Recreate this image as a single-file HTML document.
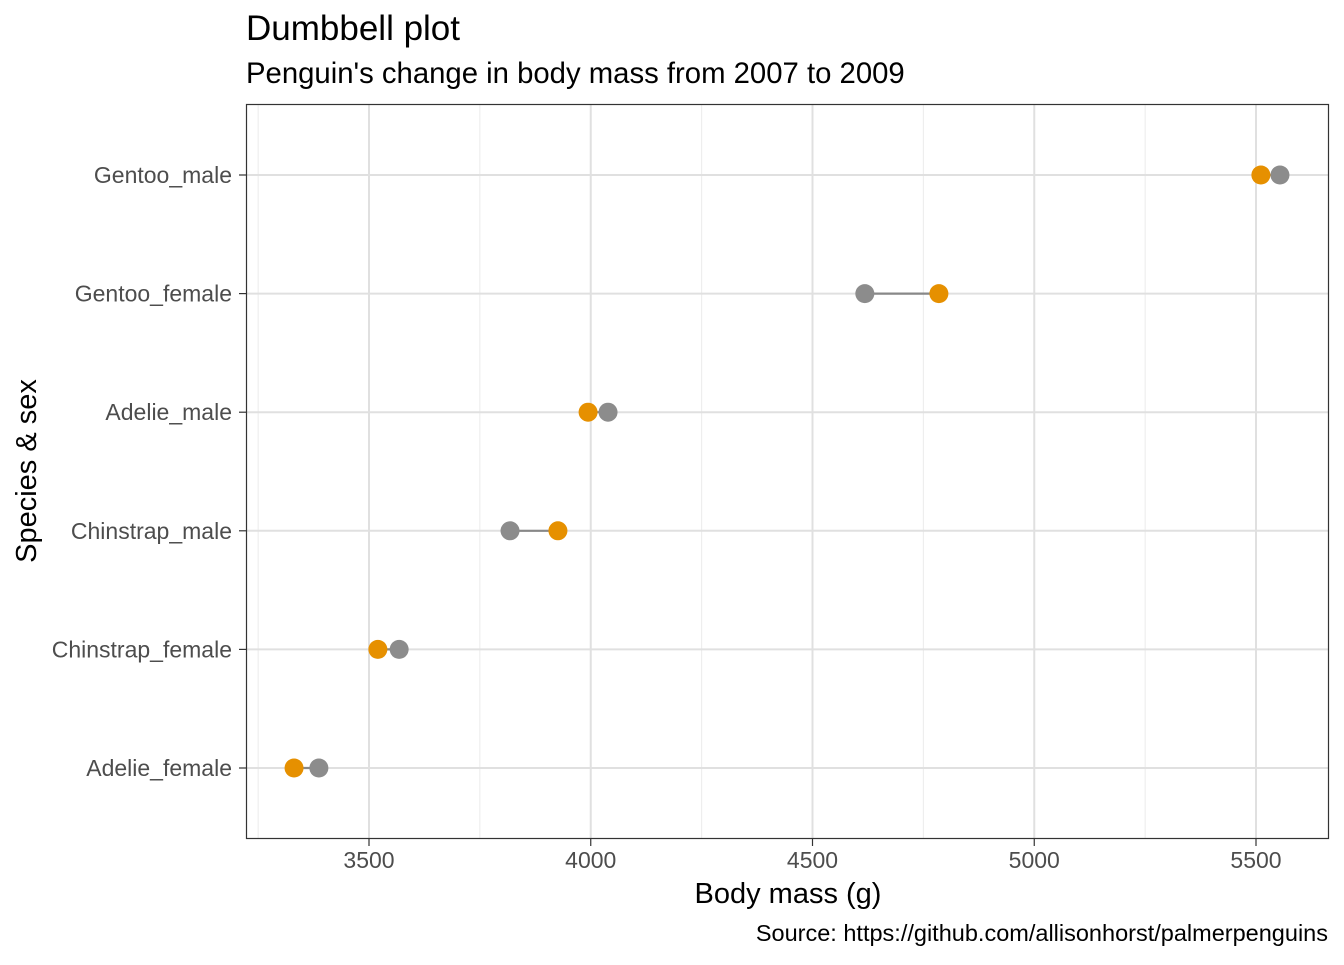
<!DOCTYPE html>
<html><head><meta charset="utf-8"><style>
body{margin:0;background:#fff;font-family:"Liberation Sans",Arial,sans-serif}
</style></head><body>
<svg id="chart" width="1344" height="960" xmlns="http://www.w3.org/2000/svg">
<text x="246" y="40" font-size="35" fill="#000">Dumbbell plot</text>
<text x="246" y="83" font-size="29.3" fill="#000">Penguin's change in body mass from 2007 to 2009</text>
<g id="grid"></g>
<g id="marks"></g>
<rect x="246.5" y="104.5" width="1082" height="734" fill="none" stroke="#333" stroke-width="1.2"/>
<g id="axes"></g>
<text x="788" y="903" font-size="29" text-anchor="middle">Body mass (g)</text>
<text transform="translate(36,471) rotate(-90)" font-size="29" text-anchor="middle">Species &amp; sex</text>
<text x="1328" y="941" font-size="23.5" text-anchor="end">Source: https://github.com/allisonhorst/palmerpenguins</text>
</svg>
<script>
const categories = ["Adelie_female","Chinstrap_female","Chinstrap_male","Adelie_male","Gentoo_female","Gentoo_male"];
const mass2007 = [3387,3568,3818,4039,4618,5554];
const mass2009 = [3331,3520,3926,3994,4785,5511];
const xTicks = [3500,4000,4500,5000,5500];
const xMinor = [3250,3750,4250,4750,5250];
const NS="http://www.w3.org/2000/svg";
function x(v){return 369+(v-3500)*0.4435;}
function y(i){return 768-i*118.6;}
function mk(tag,attrs,parent){const e=document.createElementNS(NS,tag);for(const k in attrs)e.setAttribute(k,attrs[k]);parent.appendChild(e);return e;}
const grid=document.getElementById('grid'),marks=document.getElementById('marks'),axes=document.getElementById('axes');
xMinor.forEach(v=>{const l=mk('line',{x1:x(v),x2:x(v),y1:105,y2:838,stroke:'#ebebeb','stroke-width':1},grid);

});
xTicks.forEach(v=>{const l=mk('line',{x1:x(v),x2:x(v),y1:105,y2:838,stroke:'#e0e0e0','stroke-width':2},grid);


const t=mk('line',{x1:x(v),x2:x(v),y1:839,y2:846,stroke:'#333','stroke-width':1.2},axes);


const tx=mk('text',{x:x(v),y:868,'font-size':23,fill:'#4d4d4d','text-anchor':'middle'},axes);tx.textContent=v;

});
categories.forEach((c,i)=>{const yy=y(i);
const g=mk('line',{x1:247,x2:1328,y1:yy,y2:yy,stroke:'#e0e0e0','stroke-width':2},grid);


const t=mk('line',{x1:239,x2:246,y1:yy,y2:yy,stroke:'#333','stroke-width':1.2},axes);


const tx=mk('text',{x:232,y:yy+8,'font-size':23,fill:'#4d4d4d','text-anchor':'end'},axes);tx.textContent=c;


const seg=mk('line',{x1:x(mass2007[i]),x2:x(mass2009[i]),y1:yy,y2:yy,stroke:'#888','stroke-width':2.2},marks);


const p1=mk('circle',{cx:x(mass2007[i]),cy:yy,r:9.5,fill:'#8c8c8c'},marks);


const p2=mk('circle',{cx:x(mass2009[i]),cy:yy,r:9.5,fill:'#e69000'},marks);

});
</script>
</body></html>
